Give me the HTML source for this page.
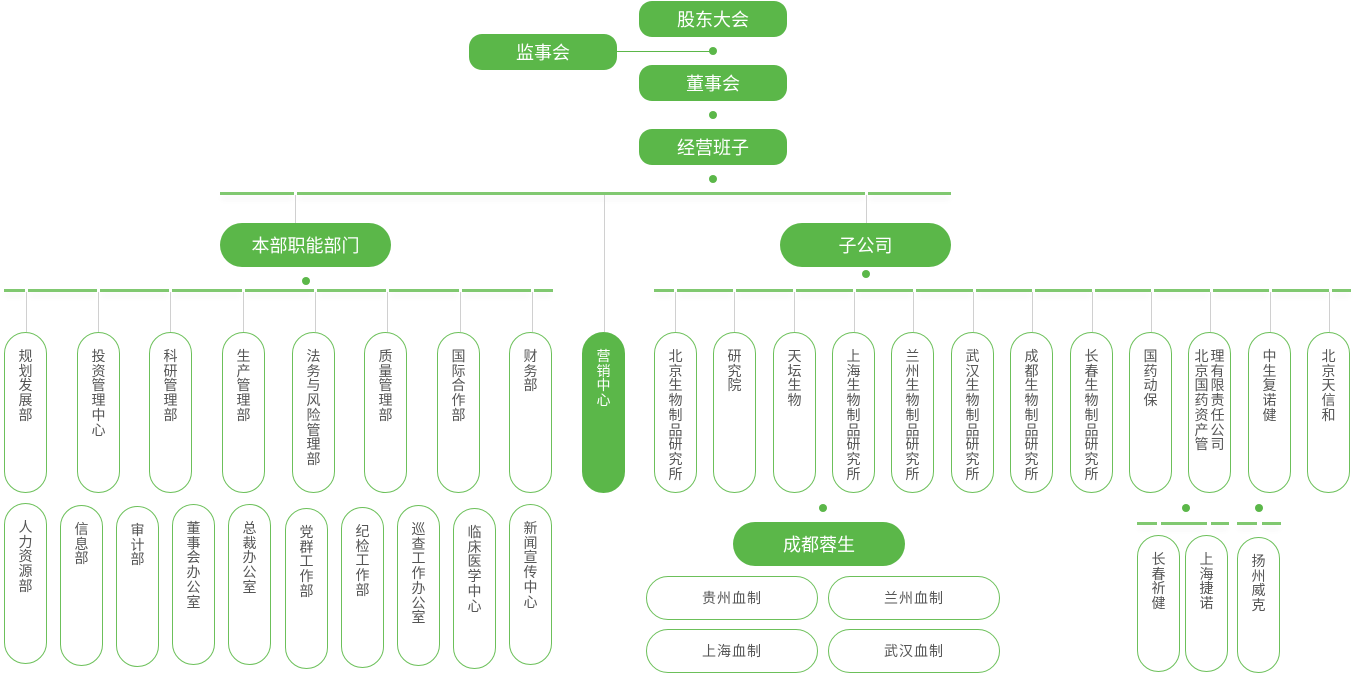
<!DOCTYPE html>
<html><head><meta charset="utf-8">
<style>
*{margin:0;padding:0;box-sizing:border-box}
body{width:1356px;height:676px;background:#fff;position:relative;overflow:hidden;font-family:"Liberation Sans","Noto Sans CJK SC",sans-serif}
.a{position:absolute}
.box{position:absolute;background:#5bb749;color:#fff;font-size:18px;display:flex;align-items:center;justify-content:center;border-radius:13px}
.dot{position:absolute;width:8px;height:8px;border-radius:50%;background:#5bb749;margin:-4px 0 0 -4px}
.hl{position:absolute;height:3px;background:#80c870;box-shadow:0 5px 6px -1px rgba(0,0,0,0.13)}
.vl{position:absolute;width:1px;background:#d0d0d0}
.p{position:absolute;width:43px;border:1.5px solid #6cc05a;border-radius:22px;background:#fff;display:flex;justify-content:center;align-items:flex-start;padding-top:16px;color:#555;font-size:14px}
.p.f{background:#5bb749;border-color:#5bb749;color:#fff}
.t{width:14px;line-height:14.7px;word-break:break-all;text-align:center}
.s{position:absolute;width:172px;height:44px;border:1.5px solid #6cc05a;border-radius:22px;display:flex;align-items:center;justify-content:center;color:#555;font-size:14px;letter-spacing:1px}
</style></head><body>

<div class="box" style="left:639px;top:1px;width:148px;height:36px">股东大会</div>
<div class="box" style="left:469px;top:34px;width:148px;height:36px">监事会</div>
<div class="a" style="left:617px;top:51px;width:96px;height:1px;background:#5bb749"></div>
<div class="dot" style="left:713px;top:51px"></div>
<div class="box" style="left:639px;top:65px;width:148px;height:36px">董事会</div>
<div class="dot" style="left:713px;top:115px"></div>
<div class="box" style="left:639px;top:129px;width:148px;height:36px">经营班子</div>
<div class="dot" style="left:713px;top:179px"></div>

<!-- top line -->
<div class="hl" style="left:220px;top:192px;width:74px"></div>
<div class="hl" style="left:297px;top:192px;width:568px"></div>
<div class="hl" style="left:868px;top:192px;width:83px"></div>
<div class="vl" style="left:295px;top:195px;height:28px"></div>
<div class="vl" style="left:866px;top:195px;height:28px"></div>
<div class="vl" style="left:604px;top:195px;height:137px"></div>

<div class="box" style="left:220px;top:223px;width:171px;height:44px;border-radius:22px">本部职能部门</div>
<div class="box" style="left:780px;top:223px;width:171px;height:44px;border-radius:22px">子公司</div>
<div class="dot" style="left:306px;top:281px"></div>
<div class="dot" style="left:866px;top:274px"></div>

<!-- left line -->
<div class="hl" style="left:4px;top:289px;width:21px"></div>
<div class="hl" style="left:28px;top:289px;width:69px"></div>
<div class="hl" style="left:100px;top:289px;width:69px"></div>
<div class="hl" style="left:172px;top:289px;width:70px"></div>
<div class="hl" style="left:245px;top:289px;width:69px"></div>
<div class="hl" style="left:317px;top:289px;width:69px"></div>
<div class="hl" style="left:389px;top:289px;width:70px"></div>
<div class="hl" style="left:462px;top:289px;width:69px"></div>
<div class="hl" style="left:534px;top:289px;width:19px"></div>

<!-- right line -->
<div class="hl" style="left:654px;top:289px;width:20px"></div>
<div class="hl" style="left:677px;top:289px;width:56px"></div>
<div class="hl" style="left:736px;top:289px;width:57px"></div>
<div class="hl" style="left:796px;top:289px;width:57px"></div>
<div class="hl" style="left:856px;top:289px;width:57px"></div>
<div class="hl" style="left:916px;top:289px;width:57px"></div>
<div class="hl" style="left:976px;top:289px;width:56px"></div>
<div class="hl" style="left:1035px;top:289px;width:57px"></div>
<div class="hl" style="left:1095px;top:289px;width:56px"></div>
<div class="hl" style="left:1154px;top:289px;width:56px"></div>
<div class="hl" style="left:1213px;top:289px;width:56px"></div>
<div class="hl" style="left:1272px;top:289px;width:57px"></div>
<div class="hl" style="left:1332px;top:289px;width:19px"></div>

<!-- verticals left -->
<div class="vl" style="left:26px;top:292px;height:40px"></div>
<div class="vl" style="left:98px;top:292px;height:40px"></div>
<div class="vl" style="left:170px;top:292px;height:40px"></div>
<div class="vl" style="left:243px;top:292px;height:40px"></div>
<div class="vl" style="left:315px;top:292px;height:40px"></div>
<div class="vl" style="left:387px;top:292px;height:40px"></div>
<div class="vl" style="left:460px;top:292px;height:40px"></div>
<div class="vl" style="left:532px;top:292px;height:40px"></div>
<!-- verticals right -->
<div class="vl" style="left:675px;top:292px;height:40px"></div>
<div class="vl" style="left:734px;top:292px;height:40px"></div>
<div class="vl" style="left:794px;top:292px;height:40px"></div>
<div class="vl" style="left:854px;top:292px;height:40px"></div>
<div class="vl" style="left:913px;top:292px;height:40px"></div>
<div class="vl" style="left:973px;top:292px;height:40px"></div>
<div class="vl" style="left:1032px;top:292px;height:40px"></div>
<div class="vl" style="left:1092px;top:292px;height:40px"></div>
<div class="vl" style="left:1151px;top:292px;height:40px"></div>
<div class="vl" style="left:1210px;top:292px;height:40px"></div>
<div class="vl" style="left:1270px;top:292px;height:40px"></div>
<div class="vl" style="left:1329px;top:292px;height:40px"></div>

<!-- left row 1 -->
<div class="p" style="left:4px;top:332px;height:161px"><div class="t">规划发展部</div></div>
<div class="p" style="left:77px;top:332px;height:161px"><div class="t">投资管理中心</div></div>
<div class="p" style="left:149px;top:332px;height:161px"><div class="t">科研管理部</div></div>
<div class="p" style="left:222px;top:332px;height:161px"><div class="t">生产管理部</div></div>
<div class="p" style="left:292px;top:332px;height:161px"><div class="t">法务与风险管理部</div></div>
<div class="p" style="left:364px;top:332px;height:161px"><div class="t">质量管理部</div></div>
<div class="p" style="left:437px;top:332px;height:161px"><div class="t">国际合作部</div></div>
<div class="p" style="left:509px;top:332px;height:161px"><div class="t">财务部</div></div>
<div class="p f" style="left:582px;top:332px;height:161px"><div class="t">营销中心</div></div>

<!-- right row -->
<div class="p" style="left:654px;top:332px;height:161px"><div class="t">北京生物制品研究所</div></div>
<div class="p" style="left:713px;top:332px;height:161px"><div class="t">研究院</div></div>
<div class="p" style="left:773px;top:332px;height:161px"><div class="t">天坛生物</div></div>
<div class="p" style="left:832px;top:332px;height:161px"><div class="t">上海生物制品研究所</div></div>
<div class="p" style="left:891px;top:332px;height:161px"><div class="t">兰州生物制品研究所</div></div>
<div class="p" style="left:951px;top:332px;height:161px"><div class="t">武汉生物制品研究所</div></div>
<div class="p" style="left:1010px;top:332px;height:161px"><div class="t">成都生物制品研究所</div></div>
<div class="p" style="left:1070px;top:332px;height:161px"><div class="t">长春生物制品研究所</div></div>
<div class="p" style="left:1129px;top:332px;height:161px"><div class="t">国药动保</div></div>
<div class="p" style="left:1188px;top:332px;height:161px;gap:2px"><div class="t">北京国药资产管</div><div class="t">理有限责任公司</div></div>
<div class="p" style="left:1248px;top:332px;height:161px"><div class="t">中生复诺健</div></div>
<div class="p" style="left:1307px;top:332px;height:161px"><div class="t">北京天信和</div></div>

<!-- left row 2 -->
<div class="p" style="left:4px;top:503px;height:161px"><div class="t">人力资源部</div></div>
<div class="p" style="left:60px;top:505px;height:161px"><div class="t">信息部</div></div>
<div class="p" style="left:116px;top:506px;height:161px"><div class="t">审计部</div></div>
<div class="p" style="left:172px;top:504px;height:161px"><div class="t">董事会办公室</div></div>
<div class="p" style="left:228px;top:504px;height:161px"><div class="t">总裁办公室</div></div>
<div class="p" style="left:285px;top:508px;height:161px"><div class="t">党群工作部</div></div>
<div class="p" style="left:341px;top:507px;height:161px"><div class="t">纪检工作部</div></div>
<div class="p" style="left:397px;top:505px;height:161px"><div class="t">巡查工作办公室</div></div>
<div class="p" style="left:453px;top:508px;height:161px"><div class="t">临床医学中心</div></div>
<div class="p" style="left:509px;top:504px;height:161px"><div class="t">新闻宣传中心</div></div>

<!-- 成都蓉生 -->
<div class="dot" style="left:823px;top:508px"></div>
<div class="box" style="left:733px;top:522px;width:172px;height:44px;border-radius:22px">成都蓉生</div>
<div class="s" style="left:646px;top:576px">贵州血制</div>
<div class="s" style="left:828px;top:576px">兰州血制</div>
<div class="s" style="left:646px;top:629px">上海血制</div>
<div class="s" style="left:828px;top:629px">武汉血制</div>

<!-- bottom right -->
<div class="dot" style="left:1186px;top:508px"></div>
<div class="dot" style="left:1259px;top:508px"></div>
<div class="hl" style="left:1137px;top:522px;width:20px"></div>
<div class="hl" style="left:1161px;top:522px;width:46px"></div>
<div class="hl" style="left:1211px;top:522px;width:18px"></div>
<div class="hl" style="left:1237px;top:522px;width:20px"></div>
<div class="hl" style="left:1262px;top:522px;width:19px"></div>
<div class="p" style="left:1137px;top:535px;height:137px"><div class="t">长春祈健</div></div>
<div class="p" style="left:1185px;top:535px;height:137px"><div class="t">上海捷诺</div></div>
<div class="p" style="left:1237px;top:537px;height:136px"><div class="t">扬州威克</div></div>

</body></html>
